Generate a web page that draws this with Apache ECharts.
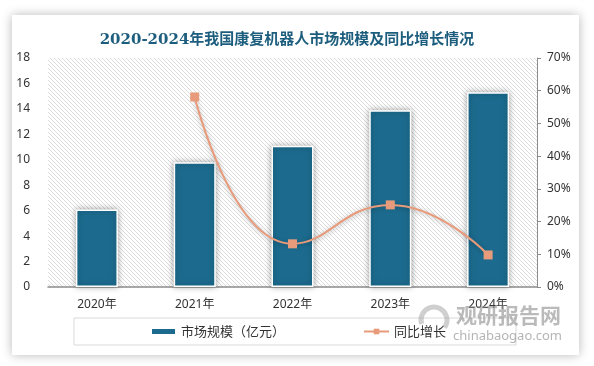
<!DOCTYPE html>
<html><head><meta charset="utf-8">
<script src="https://cdn.jsdelivr.net/npm/echarts@6/dist/echarts.min.js"></script>
<style>html,body{margin:0;padding:0;background:#fff}#c{width:594px;height:366px}</style>
</head><body><div id="c"></div>
<script>
var categories = ['2020年','2021年','2022年','2023年','2024年'];
var marketSize = [6.1, 9.8, 11.1, 13.9, 15.3];
var growth = [null, 58.1, 13.2, 25.1, 9.8];
var leftTicks = {min: 0, max: 18, interval: 2};
var rightTicks = {min: 0, max: 70, interval: 10};

var cv = document.createElement('canvas');
cv.width = 4; cv.height = 4;
var cx = cv.getContext('2d');
cx.fillStyle = '#ffffff'; cx.fillRect(0,0,4,4);
cx.fillStyle = '#dcdcdc';
for (var i = 0; i < 4; i++) cx.fillRect(i, i, 1, 1);

var chart = echarts.init(document.getElementById('c'));
var sans = '"Noto Sans", "Noto Sans CJK SC", sans-serif';
chart.setOption({
  backgroundColor: '#ffffff',
  animation: false,
  title: {
    text: '2020-2024年我国康复机器人市场规模及同比增长情况',
    left: 282, top: 28, textAlign: 'center',
    textStyle: {fontFamily: '"DejaVu Serif", "Noto Sans CJK SC", serif', fontSize: 15, fontWeight: 'bold', color: '#1d5e7e'}
  },
  graphic: [
    {type: 'rect', z: -10, shape: {x: 12, y: 15, width: 567, height: 340},
     style: {fill: '#fff', shadowBlur: 10, shadowColor: 'rgba(0,0,0,0.28)'}, silent: true},
    {type: 'text', z: 10, left: 456, top: 305,
     style: {text: '观研报告网', fontSize: 21, fontWeight: 'bold', fill: 'rgba(140,140,140,0.6)', fontFamily: '"Noto Sans CJK SC", sans-serif'}},
    {type: 'text', z: 10, left: 453, top: 330,
     style: {text: 'chinabaogao.com', fontSize: 13, fill: 'rgba(140,140,140,0.65)', fontFamily: sans}},
    {type: 'arc', z: 10, shape: {cx: 434, cy: 320, r: 13, startAngle: Math.PI * 0.9, endAngle: Math.PI * 2.2},
     style: {fill: 'none', stroke: 'rgba(160,160,160,0.5)', lineWidth: 5}}
  ],
  grid: {left: 48, right: 57, top: 58, bottom: 79, show: true, borderWidth: 0,
         backgroundColor: {image: cv, repeat: 'repeat'}},
  legend: {
    left: 74, top: 318, padding: [7, 70, 7, 76], itemGap: 78,
    borderColor: '#d9d9d9', borderWidth: 1,
    itemWidth: 25, itemHeight: 7,
    textStyle: {fontSize: 13, color: '#333', fontFamily: '"Noto Sans CJK SC", sans-serif'},
    data: [{name: '市场规模（亿元）', icon: 'rect'}, {name: '同比增长'}]
  },
  xAxis: {
    type: 'category', data: categories,
    axisLine: {lineStyle: {color: '#8c8c8c', width: 1.5}},
    axisTick: {show: false},
    axisLabel: {color: '#333', fontSize: 12, margin: 12, fontFamily: sans}
  },
  yAxis: [
    {type: 'value', min: leftTicks.min, max: leftTicks.max, interval: leftTicks.interval,
     splitLine: {show: false}, axisLine: {show: false}, axisTick: {show: false},
     axisLabel: {color: '#333', fontSize: 12, margin: 18, fontFamily: sans}},
    {type: 'value', min: rightTicks.min, max: rightTicks.max, interval: rightTicks.interval,
     position: 'right', splitLine: {show: false},
     axisLine: {show: true, lineStyle: {color: '#8c8c8c'}},
     axisTick: {show: true, length: 4, lineStyle: {color: '#8c8c8c'}},
     axisLabel: {color: '#333', fontSize: 12, margin: 10, formatter: '{value}%', fontFamily: sans}}
  ],
  series: [
    {name: '市场规模（亿元）', type: 'bar', data: marketSize, barWidth: '43%',
     itemStyle: {color: '#1c6b8e', borderColor: '#fff', borderWidth: 1.5,
                 shadowBlur: 6, shadowColor: 'rgba(0,0,0,0.35)'}},
    {name: '同比增长', type: 'line', yAxisIndex: 1, data: growth, smooth: true,
     symbol: 'rect', symbolSize: 9, showSymbol: true, connectNulls: false,
     itemStyle: {color: '#e89b7b'},
     lineStyle: {color: '#e89b7b', width: 2, shadowBlur: 5, shadowColor: 'rgba(0,0,0,0.3)', shadowOffsetY: 1}}
  ]
});
</script></body></html>
